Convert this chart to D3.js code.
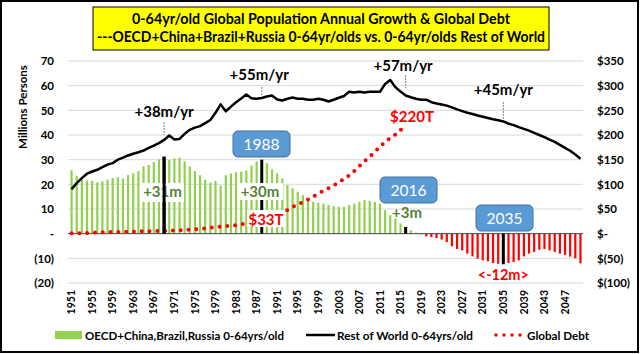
<!DOCTYPE html>
<html>
<head>
<meta charset="utf-8">
<script src="https://cdn.jsdelivr.net/npm/d3@7"></script>
<style>
body { margin: 0; background: #fff; }
svg { display: block; }
text { font-family: Lato, "Open Sans", sans-serif; }
</style>
</head>
<body>
<svg id="chart" width="640" height="354"></svg>
<script>
// categories
var years = d3.range(1951, 2051)

// OECD+China,Brazil,Russia 0-64yr/olds, annual change (millions)
var oecd = [
    25.7, 23.5, 21.9, 21.6, 21.4, 20.8, 21.2, 21.9, 22.6, 22.9,
    22.4, 23.7, 24.5, 25.4, 27.3, 27.8, 29.0, 30.1, 31.2, 29.8,
    30.5, 30.9, 29.3, 27.3, 25.4, 23.7, 21.9, 20.7, 21.4, 19.5,
    23.7, 24.4, 24.9, 25.2, 25.6, 27.6, 29.3, 30.0, 28.6, 26.1,
    24.5, 22.4, 19.7, 18.4, 17.0, 15.6, 14.3, 12.9, 12.5, 12.2,
    11.6, 11.2, 10.9, 10.9, 11.6, 12.2, 12.9, 13.6, 13.3, 12.9,
    12.2, 9.5, 7.5, 6.1, 4.1, 2.7, 1.4, 0.4, -0.2, -1.1,
    -1.4, -1.8, -2.4, -3.4, -5.1, -6.2, -6.8, -8.1, -9.2, -10.1,
    -10.8, -11.2, -11.9, -12.2, -12.4, -11.9, -11.5, -10.8, -9.2, -8.1,
    -7.4, -6.5, -6.2, -6.8, -7.4, -8.1, -8.6, -9.3, -10.0, -12.0
]

// Rest of World 0-64yr/olds, annual change (millions)
var restOfWorld = [
    18.0, 20.5, 22.5, 24.3, 25.2, 25.9, 27.0, 28.0, 28.6, 30.0,
    30.8, 31.7, 32.4, 33.0, 33.7, 34.8, 35.7, 36.7, 38.0, 39.8,
    38.2, 38.4, 40.5, 42.1, 43.0, 43.6, 44.8, 46.1, 49.0, 52.4,
    49.6, 51.5, 53.3, 54.8, 56.4, 54.9, 54.7, 55.0, 55.6, 56.0,
    54.4, 54.0, 54.7, 55.2, 54.7, 54.7, 54.3, 54.3, 54.7, 54.3,
    53.6, 54.3, 55.1, 55.8, 57.5, 57.2, 57.5, 57.2, 57.5, 57.5,
    57.5, 60.7, 62.3, 59.4, 57.6, 56.0, 55.3, 54.7, 54.3, 54.3,
    53.3, 52.8, 52.4, 51.9, 51.2, 50.4, 49.7, 49.0, 48.5, 47.9,
    47.4, 46.9, 46.4, 46.0, 45.5, 44.6, 44.0, 43.2, 42.5, 41.8,
    40.9, 40.0, 39.1, 38.1, 37.2, 36.0, 34.8, 33.6, 32.1, 30.4
]

// Global debt ($T)
var debtYears = d3.range(1951, 2017)
var debt = [
    1, 1, 1, 1.5, 2, 2.5, 3, 3, 3.5, 3.5,
    3.5, 4, 4, 4.5, 5, 5, 5, 5.5, 6, 6,
    6.5, 7, 7.5, 8, 8.5, 9.5, 10.5, 12, 13, 14,
    15, 16, 17.5, 19, 20.5, 22.5, 25, 27.5, 30, 33,
    38, 43, 48, 54, 59, 64, 69, 75, 81, 87,
    92, 98, 104, 111, 118, 127, 137, 147, 156, 166,
    176, 186, 194, 201, 210, 220
]

var leftTicks = [-20, -10, 0, 10, 20, 30, 40, 50, 60, 70]
var rightTicks = [-100, -50, 0, 50, 100, 150, 200, 250, 300, 350]
var highlightYears = [1969, 1988, 2016, 2035]

var dimensions = {
    width: 640,
    height: 354,
    margin: { top: 61, bottom: 71, left: 69, right: 57 }
}

var svg = d3.select("#chart")

// outer frame
svg.append("rect")
    .attr("x", 1).attr("y", 1)
    .attr("width", dimensions.width - 3).attr("height", dimensions.height - 3)
    .attr("fill", "none").attr("stroke", "#000").attr("stroke-width", 2)

// title box
svg.append("rect")
    .attr("x", 93).attr("y", 7).attr("width", 456).attr("height", 43)
    .attr("fill", "#FFFF00").attr("stroke", "#000").attr("stroke-width", 1)
svg.append("text")
    .attr("x", 321).attr("y", 24)
    .attr("text-anchor", "middle")
    .attr("font-size", "14.5px").attr("font-weight", "bold")
    .attr("textLength", 378).attr("lengthAdjust", "spacingAndGlyphs")
    .text("0-64yr/old Global Population Annual Growth & Global Debt")
svg.append("text")
    .attr("x", 321).attr("y", 42)
    .attr("text-anchor", "middle")
    .attr("font-size", "14.5px").attr("font-weight", "bold")
    .attr("textLength", 448).attr("lengthAdjust", "spacingAndGlyphs")
    .text("---OECD+China+Brazil+Russia 0-64yr/olds vs. 0-64yr/olds Rest of World")

var xScale = d3.scaleBand()
    .domain(years)
    .range([dimensions.margin.left, dimensions.width - dimensions.margin.right])
    .padding(0)

var yScale = d3.scaleLinear()
    .domain([-20, 70])
    .range([dimensions.height - dimensions.margin.bottom, dimensions.margin.top])

var y2Scale = d3.scaleLinear()
    .domain([-100, 350])
    .range([dimensions.height - dimensions.margin.bottom, dimensions.margin.top])

var bw = xScale.bandwidth()
var cx = function (yr) { return xScale(yr) + bw / 2 }
var plotLeft = dimensions.margin.left - 1
var plotRight = dimensions.width - dimensions.margin.right

// gridlines
svg.append("g")
    .selectAll("line")
    .data(leftTicks.filter(d => d !== 0))
    .enter()
    .append("line")
    .attr("x1", plotLeft).attr("x2", plotRight)
    .attr("y1", d => yScale(d)).attr("y2", d => yScale(d))
    .attr("stroke", "#D9D9D9").attr("stroke-width", 1)

// left axis
var yAxis = d3.axisLeft(yScale)
    .tickValues(leftTicks)
    .tickSize(0)
    .tickPadding(0)
    .tickFormat(d => d === 0 ? "-" : (d < 0 ? "(" + (-d) + ")" : d))
var gy = svg.append("g")
    .attr("transform", "translate(54,0)")
    .call(yAxis)
gy.select(".domain").remove()
gy.selectAll("text")
    .attr("font-size", "11.5px").attr("font-weight", "bold")
    .attr("fill", "#000")
    .style("font-family", "Lato, sans-serif")

// right axis
var y2Axis = d3.axisRight(y2Scale)
    .tickValues(rightTicks)
    .tickSize(0)
    .tickPadding(0)
    .tickFormat(d => d === 0 ? "$-" : (d < 0 ? "$(" + (-d) + ")" : "$" + d))
var gy2 = svg.append("g")
    .attr("transform", "translate(597,0)")
    .call(y2Axis)
gy2.select(".domain").remove()
gy2.selectAll("text")
    .attr("font-size", "11.5px").attr("font-weight", "bold")
    .attr("fill", "#000")
    .style("font-family", "Lato, sans-serif")

// y axis title
svg.append("text")
    .attr("transform", "translate(27,107) rotate(-90)")
    .attr("text-anchor", "middle")
    .attr("font-size", "11.5px").attr("font-weight", "bold")
    .text("Millions Persons")

// x axis labels
var xAxis = d3.axisBottom(xScale)
    .tickValues(years.filter(d => (d - 1951) % 4 === 0))
    .tickSize(0)
    .tickPadding(0)
var gx = svg.append("g")
    .attr("transform", "translate(0," + (yScale(-20) + 7) + ")")
    .call(xAxis)
gx.select(".domain").remove()
gx.selectAll("text")
    .attr("font-size", "10.5px").attr("font-weight", "bold")
    .attr("fill", "#000")
    .style("font-family", "Lato, sans-serif")
    .attr("text-anchor", "end")
    .attr("dy", "0.35em")
    .attr("x", 0).attr("y", 0)
    .attr("transform", "rotate(-90)")

// bars
var barData = years.map((yr, i) => ({ year: yr, value: oecd[i] }))
svg.append("g")
    .selectAll("rect")
    .data(barData.filter(d => highlightYears.indexOf(d.year) < 0))
    .enter()
    .append("rect")
    .attr("x", d => cx(d.year) - 1.1)
    .attr("width", 2.2)
    .attr("y", d => yScale(Math.max(0, d.value)))
    .attr("height", d => Math.abs(yScale(d.value) - yScale(0)))
    .attr("fill", d => d.value >= 0 ? "#92D050" : "#FF0000")

// zero line
svg.append("line")
    .attr("x1", plotLeft).attr("x2", plotRight)
    .attr("y1", yScale(0)).attr("y2", yScale(0))
    .attr("stroke", "#404040").attr("stroke-width", 1)

// highlighted bars
svg.append("g")
    .selectAll("rect")
    .data(barData.filter(d => highlightYears.indexOf(d.year) >= 0))
    .enter()
    .append("rect")
    .attr("x", d => cx(d.year) - 1.5)
    .attr("width", 3)
    .attr("y", d => yScale(Math.max(0, d.value)))
    .attr("height", d => Math.abs(yScale(d.value) - yScale(0)))
    .attr("fill", "#000")

// rest of world line
var line = d3.line()
    .x((d, i) => cx(years[i]))
    .y(d => yScale(d))
svg.append("path")
    .datum(restOfWorld)
    .attr("d", line)
    .attr("fill", "none")
    .attr("stroke", "#000")
    .attr("stroke-width", 2.5)
    .attr("stroke-linejoin", "round")

// debt dotted line
var debtLine = d3.line()
    .x((d, i) => cx(debtYears[i]))
    .y(d => y2Scale(d))
svg.append("path")
    .datum(debt)
    .attr("d", debtLine)
    .attr("fill", "none")
    .attr("stroke", "#FF0000")
    .attr("stroke-width", 4)
    .attr("stroke-linecap", "round")
    .attr("stroke-dasharray", "0 7.8")

// leader lines for growth labels
var leaders = [
    { year: 1969, y1: 122, y2: 135 },
    { year: 1988, y1: 87, y2: 96 },
    { year: 2016, y1: 75, y2: 88 },
    { year: 2035, y1: 102, y2: 120 }
]
svg.append("g")
    .selectAll("line")
    .data(leaders)
    .enter()
    .append("line")
    .attr("x1", d => cx(d.year)).attr("x2", d => cx(d.year))
    .attr("y1", d => d.y1).attr("y2", d => d.y2)
    .attr("stroke", "#808080").attr("stroke-width", 1)
    .attr("stroke-dasharray", "2,1")

var growthLabels = [
    { text: "+38m/yr", year: 1969, y: 117 },
    { text: "+55m/yr", year: 1987.5, y: 80 },
    { text: "+57m/yr", year: 2015.5, y: 71 },
    { text: "+45m/yr", year: 2035, y: 95 }
]
svg.append("g")
    .selectAll("text")
    .data(growthLabels)
    .enter()
    .append("text")
    .attr("x", d => cx(Math.floor(d.year)) + (d.year % 1) * bw)
    .attr("y", d => d.y)
    .attr("text-anchor", "middle")
    .attr("font-size", "15px").attr("font-weight", "bold")
    .attr("fill", "#000")
    .text(d => d.text)

// white-backed labels
var boxed = [
    { text: "+31m", x: 162.5, y: 197, bx: 141, by: 183, bw: 43, bh: 19, color: "#548235" },
    { text: "+30m", x: 260, y: 197, bx: 237, by: 183, bw: 46, bh: 17, color: "#548235" },
    { text: "$33T", x: 266, y: 225, bx: 247, by: 210, bw: 38, bh: 17, color: "#FF0000" }
]
var gb = svg.append("g")
boxed.forEach(function (d) {
    gb.append("rect")
        .attr("x", d.bx).attr("y", d.by)
        .attr("width", d.bw).attr("height", d.bh)
        .attr("fill", "#fff")
    gb.append("text")
        .attr("x", d.x).attr("y", d.y)
        .attr("text-anchor", "middle")
        .attr("font-size", "15px").attr("font-weight", "bold")
        .attr("fill", d.color)
        .text(d.text)
})
// 1969 bar shows through its label
svg.append("rect")
    .attr("x", cx(1969) - 1.5).attr("width", 3)
    .attr("y", yScale(oecd[years.indexOf(1969)]))
    .attr("height", yScale(0) - yScale(oecd[years.indexOf(1969)]))
    .attr("fill", "#000")

svg.append("text")
    .attr("x", 407).attr("y", 218)
    .attr("text-anchor", "middle")
    .attr("font-size", "15px").attr("font-weight", "bold")
    .attr("fill", "#548235")
    .text("+3m")

svg.append("text")
    .attr("x", 412).attr("y", 122)
    .attr("text-anchor", "middle")
    .attr("font-size", "15px").attr("font-weight", "bold")
    .attr("fill", "#FF0000")
    .text("$220T")

svg.append("text")
    .attr("x", cx(2035)).attr("y", 280)
    .attr("text-anchor", "middle")
    .attr("font-size", "14.5px").attr("font-weight", "bold")
    .attr("fill", "#FF0000")
    .text("<-12m>")

// year call-out boxes
var callouts = [
    { text: "1988", x: 233, y: 131 },
    { text: "2016", x: 380, y: 177 },
    { text: "2035", x: 476, y: 205 }
]
var gc = svg.append("g")
callouts.forEach(function (d) {
    gc.append("rect")
        .attr("x", d.x).attr("y", d.y)
        .attr("width", 57).attr("height", 26)
        .attr("rx", 5)
        .attr("fill", "#5B9BD5")
        .attr("stroke", "#41719C").attr("stroke-width", 1)
    gc.append("text")
        .attr("x", d.x + 28.5).attr("y", d.y + 18.5)
        .attr("text-anchor", "middle")
        .attr("font-size", "15.5px")
        .attr("fill", "#fff")
        .text(d.text)
})

// legend
var lg = svg.append("g").attr("font-size", "12px").attr("font-weight", "bold")
lg.append("rect")
    .attr("x", 55).attr("y", 331).attr("width", 27).attr("height", 8)
    .attr("fill", "#92D050")
lg.append("text")
    .attr("x", 85).attr("y", 339.5)
    .attr("textLength", 199).attr("lengthAdjust", "spacingAndGlyphs")
    .text("OECD+China,Brazil,Russia 0-64yrs/old")
lg.append("line")
    .attr("x1", 306).attr("x2", 335)
    .attr("y1", 335).attr("y2", 335)
    .attr("stroke", "#000").attr("stroke-width", 2.5)
lg.append("text")
    .attr("x", 337).attr("y", 339.5)
    .attr("textLength", 136).attr("lengthAdjust", "spacingAndGlyphs")
    .text("Rest of World 0-64yrs/old")
lg.append("line")
    .attr("x1", 496).attr("x2", 521)
    .attr("y1", 335).attr("y2", 335)
    .attr("stroke", "#FF0000").attr("stroke-width", 3.5)
    .attr("stroke-linecap", "round")
    .attr("stroke-dasharray", "0 8")
lg.append("text")
    .attr("x", 527).attr("y", 339.5)
    .attr("textLength", 62).attr("lengthAdjust", "spacingAndGlyphs")
    .text("Global Debt")
</script>
</body>
</html>
